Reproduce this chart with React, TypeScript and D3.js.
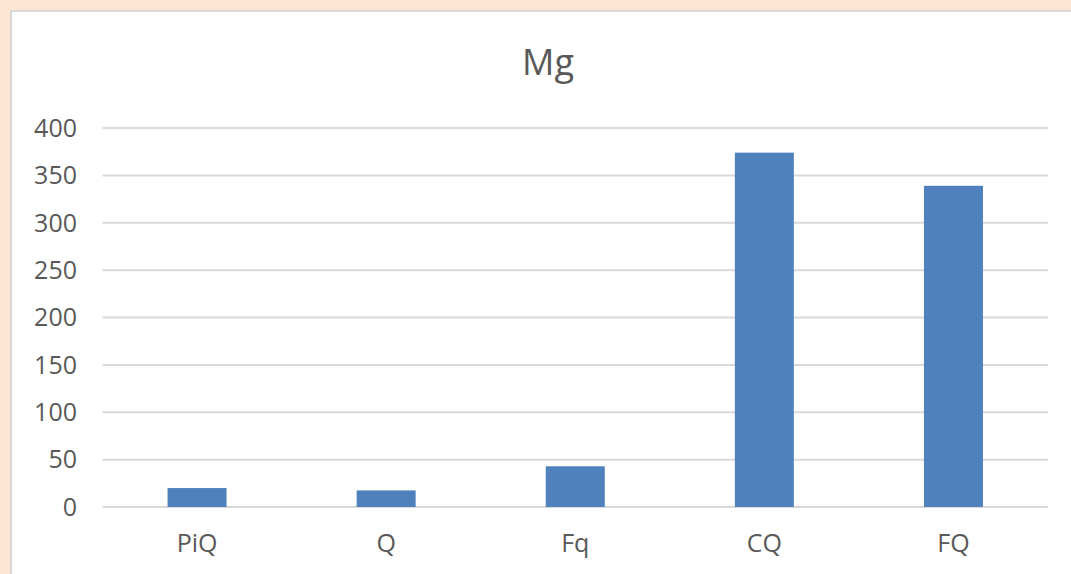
import React from "react";
import * as d3 from "d3";

const categories = ["PiQ", "Q", "Fq", "CQ", "FQ"];
const values = [20, 17.5, 43, 374, 339];
const yTicks = [0, 50, 100, 150, 200, 250, 300, 350, 400];
const title = "Mg";

const W = 1071;
const H = 574;
const plot = { left: 102.5, right: 1048, top: 128, bottom: 507 };
const FONT = "'Open Sans', 'Liberation Sans', sans-serif";
const TEXT = "#595959";

export default function App() {
  const x = d3
    .scaleBand<string>()
    .domain(categories)
    .range([plot.left, plot.right])
    .paddingInner(0.688)
    .paddingOuter(0.344);
  const y = d3.scaleLinear().domain([0, 400]).range([plot.bottom, plot.top]);
  const band = d3.scaleBand<string>().domain(categories).range([plot.left, plot.right]);

  return (
    <svg
      width={W}
      height={H}
      style={{ position: "absolute", left: 0, top: 0, display: "block" }}
    >
      <rect x={0} y={0} width={W} height={H} fill="#fde5d3" />
      <rect x={11} y={11} width={W + 20} height={H + 20} fill="#ffffff" stroke="#d9d9d9" strokeWidth={2} />
      <text
        x={548}
        y={75}
        textAnchor="middle"
        fontFamily={FONT}
        fontSize={36}
        fill={TEXT}
      >
        {title}
      </text>
      {yTicks.map((t) => (
        <g key={t}>
          <line
            x1={plot.left}
            x2={plot.right}
            y1={y(t)}
            y2={y(t)}
            stroke="#d9d9d9"
            strokeWidth={2}
          />
          <text
            x={77}
            y={y(t)}
            dy="0.35em"
            textAnchor="end"
            fontFamily={FONT}
            fontSize={25}
            fill={TEXT}
          >
            {t}
          </text>
        </g>
      ))}
      {categories.map((c, i) => (
        <rect
          key={c}
          x={x(c)}
          y={y(values[i])}
          width={x.bandwidth()}
          height={y(0) - y(values[i])}
          fill="#4f81bd"
        />
      ))}
      {categories.map((c) => (
        <text
          key={c}
          x={(band(c) as number) + band.bandwidth() / 2}
          y={552}
          textAnchor="middle"
          fontFamily={FONT}
          fontSize={25}
          fill={TEXT}
        >
          {c}
        </text>
      ))}
    </svg>
  );
}
